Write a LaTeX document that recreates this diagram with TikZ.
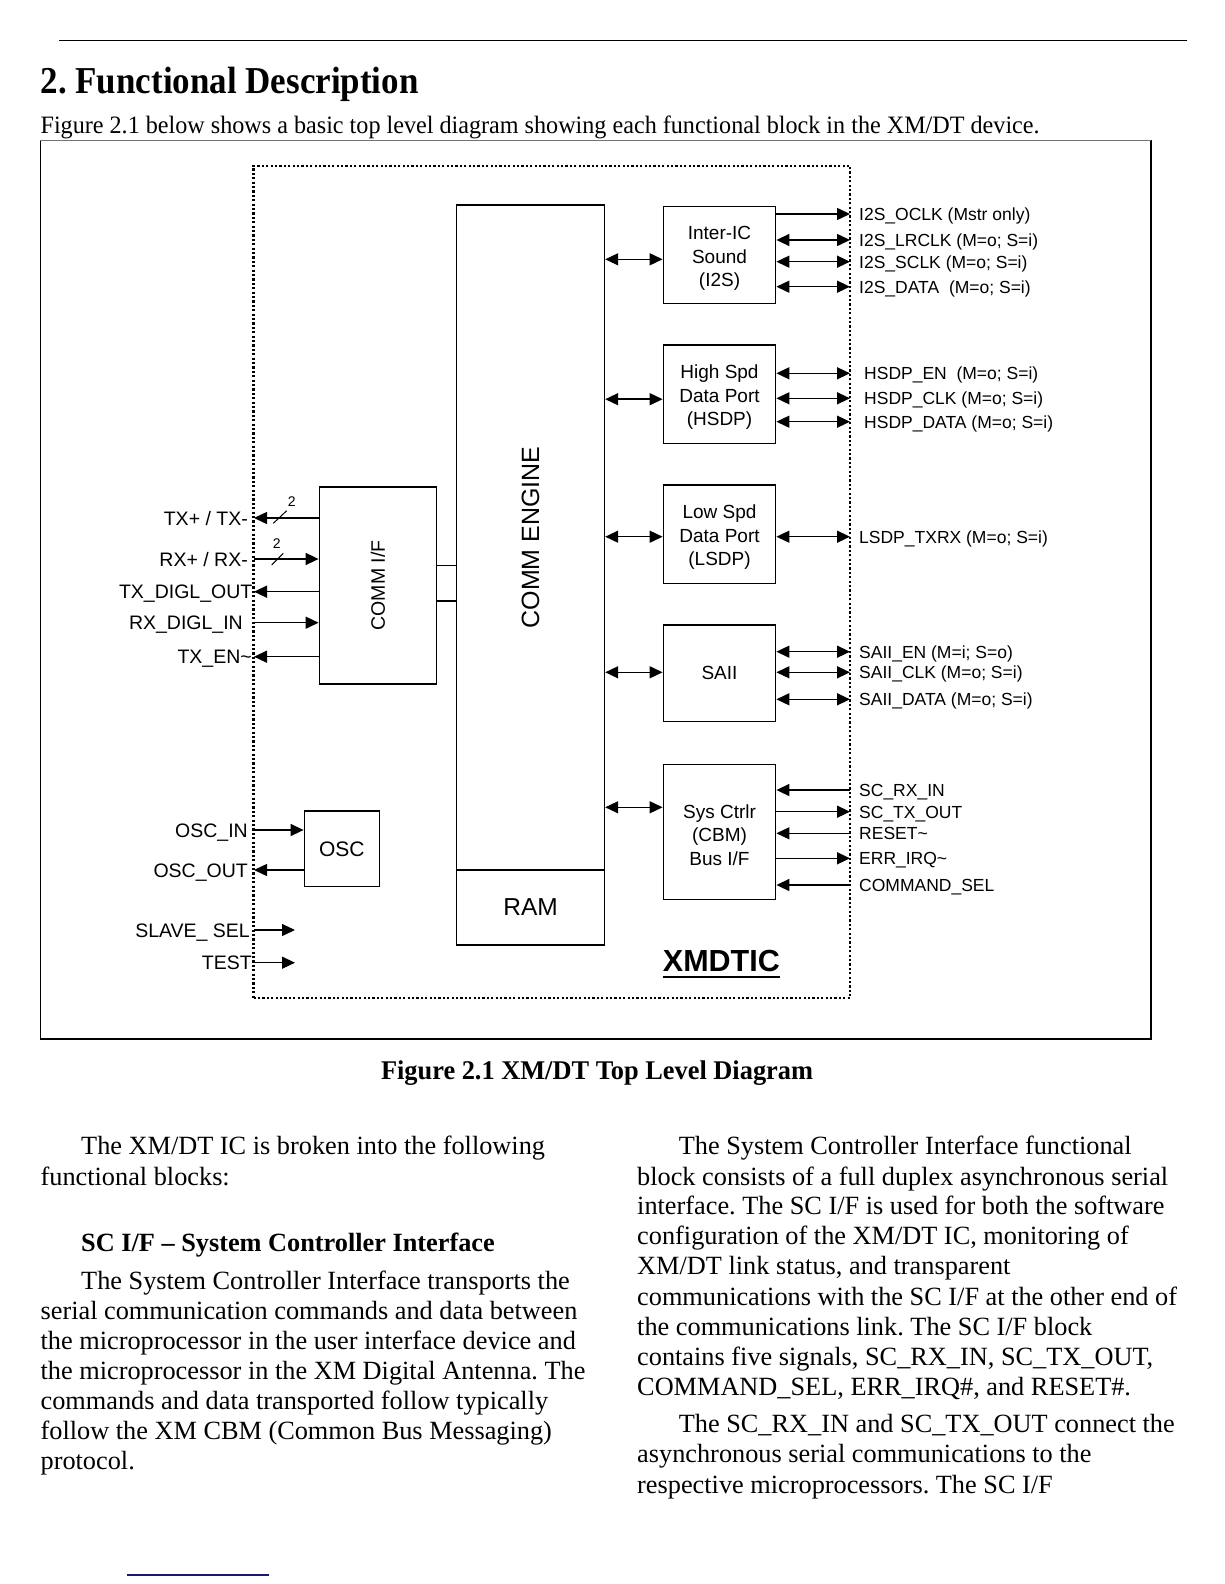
\documentclass[tikz,border=0pt]{standalone}
\usepackage{fontspec}
\setmainfont{Liberation Serif}
\newfontfamily\diagfont{Liberation Sans}
\usepackage{graphicx}
\usepackage{tikz}
\usetikzlibrary{arrows.meta, positioning, calc}
\definecolor{RuleNavy}{RGB}{24,24,120}
\newcommand{\fsz}[2]{\fontsize{#1}{#2}\selectfont}
\newcommand{\fitw}[2]{\resizebox{#1}{\height}{#2}}
\newcommand{\lift}{\rule{0pt}{20pt}}
\frenchspacing

\begin{document}
\begin{tikzpicture}[x=1pt, y=-1pt,
    blk/.style={draw, line width=1.4pt, inner sep=0pt, align=center,
                font=\diagfont\fsz{19}{23.5}},
    sig/.style={anchor=west, inner xsep=9pt, inner ysep=0pt,
                text height=12.6pt, text depth=0pt, font=\diagfont\fsz{17.5}{21}},
    pin/.style={anchor=east, inner xsep=6pt, inner ysep=0pt,
                text height=14pt, text depth=0pt, font=\diagfont\fsz{19.5}{23}},
    wire/.style={line width=1.5pt},
    sarr/.style={wire, -{Triangle[length=13pt, width=12pt]}},
    darr/.style={wire, {Triangle[length=13pt, width=12pt]}-{Triangle[length=13pt, width=12pt]}},
    dotbox/.style={draw, line width=2.2pt, dash pattern=on 2.2pt off 2.2pt, inner sep=0pt},
    body/.style={anchor=base west, inner sep=0pt, font=\fsz{26.3}{30}}]

    \useasboundingbox (0,0) rectangle (1224,1584);

    % Page header
    \draw[line width=1pt] (59,40.4) -- (1187,40.4);
    \node[anchor=base west, inner sep=0pt, font=\bfseries\fsz{38}{44}]
          (title) at (40.4,93.5) {\fitw{378pt}{2. Functional Description}};
    \node[anchor=base west, inner sep=0pt, font=\fsz{25}{30}]
          (intro) at (40.4,133.3)
          {\fitw{999pt}{Figure 2.1 below shows a basic top level diagram showing each functional block in the XM/DT device.}};

    % Figure frame
    \draw[line width=1.6pt] (40.4,140.4) -- (40.4,1039) -- (1151,1039) -- (1151,140.4);
    \draw[black!55, line width=1pt] (40.4,140.4) -- (1151,140.4);

    % Chip boundary
    \node[dotbox, minimum width=596.5pt, minimum height=832.7pt] (chip) at (551.75,582) {};

    % Core blocks
    \node[blk, minimum width=147.8pt, minimum height=665pt] (engine) at (530.6,537.5)
          {\rotatebox{90}{\fsz{25}{30}COMM ENGINE}};
    \node[blk, minimum width=147.8pt, minimum height=75pt, font=\diagfont\fsz{24.5}{28}]
          (ram) at (530.6,907.5) {RAM};
    \node[blk, minimum width=117.4pt, minimum height=197pt] (commif) at (378,585.3)
          {\rotatebox{90}{\fsz{19.5}{23}COMM I/F}};
    \node[blk, minimum width=75pt, minimum height=75.7pt, font=\diagfont\fsz{21}{25}]
          (osc) at (341.8,848.8) {OSC};
    \node[anchor=base west, inner sep=0pt, font=\diagfont\bfseries\fsz{30.5}{36}]
          (xmd) at (662.7,971.7) {XMDTIC};
    \draw[line width=2.2pt] ($(xmd.base west)+(0,5)$) -- ($(xmd.base east)+(0,5)$);

    % Peripheral blocks
    \node[blk, minimum width=112.4pt, minimum height=96.6pt] (i2s) at (719.5,255) {\lift Inter-IC\\Sound\\(I2S)};
    \node[blk, minimum width=112.4pt, minimum height=98.3pt] (hsdp) at (719.5,394.2) {\lift High Spd\\Data Port\\(HSDP)};
    \node[blk, minimum width=112.4pt, minimum height=98.3pt] (lsdp) at (719.5,534.2) {\lift Low Spd\\Data Port\\(LSDP)};
    \node[blk, minimum width=112.4pt, minimum height=96.7pt] (saii) at (719.5,673.3) {SAII};
    \node[blk, minimum width=112.4pt, minimum height=135pt] (sysc) at (719.5,831.8) {\lift Sys Ctrlr\\(CBM)\\Bus I/F};

    % Engine links
    \foreach \b/\dy in {i2s/4.3, hsdp/5, lsdp/2.5, saii/-1, sysc/-24.5}
        \draw[darr] ($(engine.east |- \b.west)+(0,\dy)$) -- ($(\b.west)+(0,\dy)$);
    \coordinate (bus1) at ($(commif.east)+(0,-20)$);
    \coordinate (bus2) at ($(commif.east)+(0,15.5)$);
    \draw[wire] (bus1) -- (bus1 -| engine.west);
    \draw[wire] (bus2) -- (bus2 -| engine.west);

    % Right side signals
    \node[sig] (oclk) at (850,214) {I2S\_OCLK (Mstr only)};
    \node[sig] (lrclk) at (850,240) {I2S\_LRCLK (M=o; S=i)};
    \node[sig] (sclk) at (850,261.7) {I2S\_SCLK (M=o; S=i)};
    \node[sig] (idata) at (850,286.7) {I2S\_DATA\ \ (M=o; S=i)};
    \node[sig, inner xsep=14pt] (hen) at (850,373.3) {HSDP\_EN\ \ (M=o; S=i)};
    \node[sig, inner xsep=14pt] (hclk) at (850,398.3) {HSDP\_CLK (M=o; S=i)};
    \node[sig, inner xsep=14pt] (hdata) at (850,421.7) {HSDP\_DATA (M=o; S=i)};
    \node[sig] (ltxrx) at (850,536.7) {LSDP\_TXRX (M=o; S=i)};
    \node[sig] (sen) at (850,651.7) {SAII\_EN (M=i; S=o)};
    \node[sig] (sclk2) at (850,672.3) {SAII\_CLK (M=o; S=i)};
    \node[sig] (sdata) at (850,699.3) {SAII\_DATA (M=o; S=i)};
    \node[sig] (rxin) at (850,790) {SC\_RX\_IN};
    \node[sig] (txout) at (850,811.7) {SC\_TX\_OUT};
    \node[sig] (rst) at (850,833.3) {RESET\textasciitilde};
    \node[sig] (irq) at (850,858.3) {ERR\_IRQ\textasciitilde};
    \node[sig] (cmd) at (850,885) {COMMAND\_SEL};

    \draw[sarr] (i2s.east |- oclk.west) -- (oclk.west);
    \foreach \s in {lrclk, sclk, idata}
        \draw[darr] (i2s.east |- \s.west) -- (\s.west);
    \foreach \s in {hen, hclk, hdata}
        \draw[darr] (hsdp.east |- \s.west) -- (\s.west);
    \draw[darr] (lsdp.east |- ltxrx.west) -- (ltxrx.west);
    \foreach \s in {sen, sclk2, sdata}
        \draw[darr] (saii.east |- \s.west) -- (\s.west);
    \foreach \s in {rxin, rst, cmd}
        \draw[sarr] (\s.west) -- (sysc.east |- \s.west);
    \foreach \s in {txout, irq}
        \draw[sarr] (sysc.east |- \s.west) -- (\s.west);

    % Left side signals
    \node[pin] (txpm) at (254,518) {TX+ / TX-};
    \node[pin] (rxpm) at (254,559) {RX+ / RX-};
    \node[pin, inner xsep=1.5pt] (txdo) at (254,591.7) {TX\_DIGL\_OUT};
    \node[pin, inner xsep=11pt] (rxdi) at (254,622.7) {RX\_DIGL\_IN};
    \node[pin, inner xsep=2pt] (txen) at (254,656.7) {TX\_EN\textasciitilde};
    \node[pin] (oscin) at (254,830) {OSC\_IN};
    \node[pin] (oscout) at (254,870) {OSC\_OUT};
    \node[pin, inner xsep=4pt] (slave) at (254,930) {SLAVE\_ SEL};
    \node[pin, inner xsep=2pt] (test) at (254,962.7) {TEST};
    \coordinate (slaveend) at (295,930);
    \coordinate (testend) at (295,962.7);

    \draw[sarr] (commif.west |- txpm.east) -- (txpm.east);
    \draw[sarr] (rxpm.east) -- (commif.west |- rxpm.east);
    \draw[sarr] (commif.west |- txdo.east) -- (txdo.east);
    \draw[sarr] (rxdi.east) -- (commif.west |- rxdi.east);
    \draw[sarr] (commif.west |- txen.east) -- (txen.east);
    \draw[sarr] (oscin.east) -- (osc.west |- oscin.east);
    \draw[sarr] (osc.west |- oscout.east) -- (oscout.east);
    \draw[sarr, line width=1.1pt] (slave.east) -- (slaveend);
    \draw[sarr] (test.east) -- (testend);

    % Bus width marks
    \draw[line width=1pt] ($(txpm.east)+(19.3,5.3)$) -- ++(13.4,-12.6);
    \node[font=\diagfont\fsz{14}{16}, inner sep=0pt] (txw) at ($(txpm.east)+(37.7,-16)$) {2};
    \draw[line width=1pt] ($(rxpm.east)+(17.7,6)$) -- ++(11.6,-11.7);
    \node[font=\diagfont\fsz{14}{16}, inner sep=0pt] (rxw) at ($(rxpm.east)+(22.7,-15)$) {2};

    % Caption
    \node[anchor=base, inner sep=0pt, font=\bfseries\fsz{27}{32}]
          (caption) at (597,1079.6) {\fitw{432pt}{Figure 2.1 XM/DT Top Level Diagram}};

    % Left column
    \node[body] (l1) at (81,1154) {The XM/DT IC is broken into the following};
    \node[body] (l2) at (40.4,1185) {functional blocks:};
    \node[body, font=\bfseries\fsz{26.3}{30}] (l3) at (81,1251) {SC I/F \textendash\ System Controller Interface};
    \node[body] (l4) at (81,1289) {The System Controller Interface transports the};
    \node[body] (l5) at (40.4,1319) {serial communication commands and data between};
    \node[body] (l6) at (40.4,1349) {the microprocessor in the user interface device and};
    \node[body] (l7) at (40.4,1379.5) {the microprocessor in the XM Digital Antenna. The};
    \node[body] (l8) at (40.4,1409) {commands and data transported follow typically};
    \node[body] (l9) at (40.4,1439) {follow the XM CBM (Common Bus Messaging)};
    \node[body] (l10) at (40.4,1469) {protocol.};

    % Right column
    \node[body] (r1) at (678.6,1154) {The System Controller Interface functional};
    \node[body] (r2) at (637,1185) {block consists of a full duplex asynchronous serial};
    \node[body] (r3) at (637,1214) {interface. The SC I/F is used for both the software};
    \node[body] (r4) at (637,1244) {configuration of the XM/DT IC, monitoring of};
    \node[body] (r5) at (637,1274.5) {XM/DT link status, and transparent};
    \node[body] (r6) at (637,1305) {communications with the SC I/F at the other end of};
    \node[body] (r7) at (637,1335) {the communications link. The SC I/F block};
    \node[body] (r8) at (637,1365) {contains five signals, SC\_RX\_IN, SC\_TX\_OUT,};
    \node[body] (r9) at (637,1395) {COMMAND\_SEL, ERR\_IRQ\#, and RESET\#.};
    \node[body] (r10) at (678.6,1432) {The SC\_RX\_IN and SC\_TX\_OUT connect the};
    \node[body] (r11) at (637,1462) {asynchronous serial communications to the};
    \node[body] (r12) at (637,1493) {respective microprocessors. The SC I/F};

    % Footnote rule
    \draw[RuleNavy, line width=1.2pt] (127,1575) -- (269,1575);
\end{tikzpicture}
\end{document}
